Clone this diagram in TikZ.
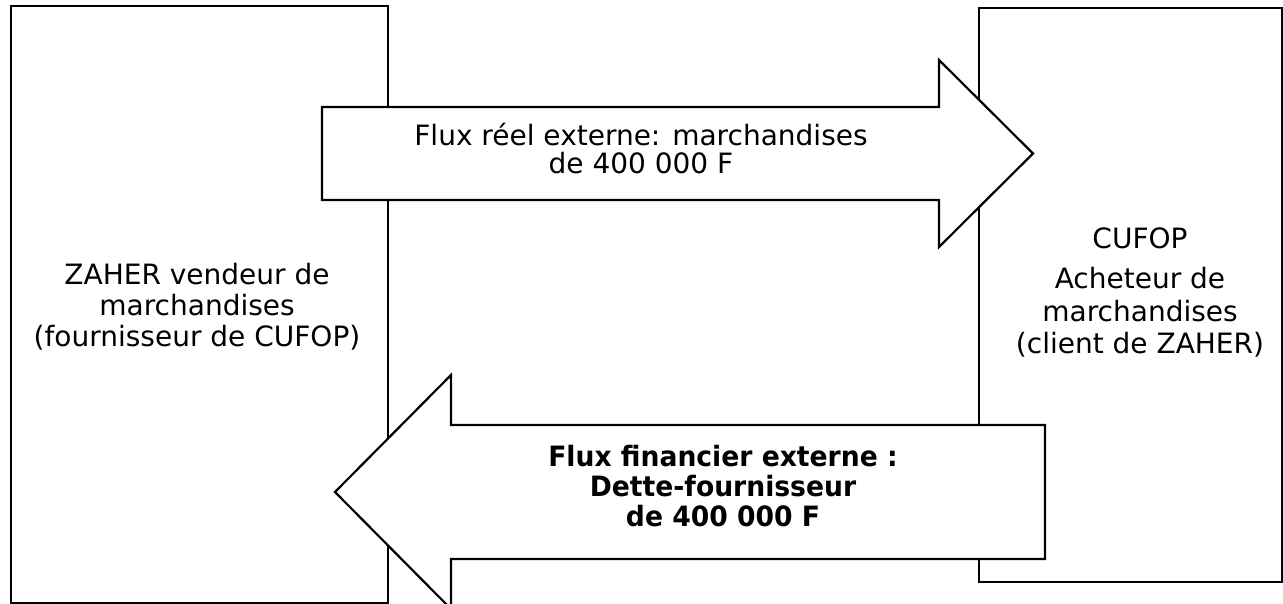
\documentclass[tikz,border=0pt]{standalone}
\usepackage{fontspec}
\setmainfont{DejaVu Sans}
\newfontfamily\narrowsans{DejaVu Sans}[FakeStretch=0.95]
\begin{document}
\begin{tikzpicture}[x=1pt,y=-1pt,
  boxst/.style={draw=black, line width=2.2pt, fill=white, rectangle, inner sep=0pt},
  flowarrow/.style={draw=black, line width=2.2pt, fill=white, line join=miter},
  lbl/.style={align=center, inner sep=0pt, text=black}]
\useasboundingbox (0,0) rectangle (1283,604);
\clip (0,0) rectangle (1283,604);
% boxes
\node[boxst, minimum width=377pt, minimum height=597pt] (zaher) at (199.5,304.5) {};
\node[boxst, minimum width=303pt, minimum height=574pt] (cufop) at (1130.5,295) {};
% top arrow (real flow) from ZAHER to CUFOP
\coordinate (rtail) at (322,153.5);
\coordinate (rtip) at (1033,153.5);
\draw[flowarrow] (322,107) -- (939,107) -- (939,60) -- (rtip) -- (939,247) -- (939,200) -- (322,200) -- cycle;
% bottom arrow (financial flow) from CUFOP to ZAHER
\coordinate (ftip) at (335,492);
\coordinate (ftail) at (1045,492);
\draw[flowarrow] (ftip) -- (451,375) -- (451,425) -- (1045,425) -- (1045,559) -- (451,559) -- (451,609) -- cycle;
% texts
\node[lbl, font=\fontsize{28}{31}\selectfont] (zahertxt) at (197,306.8)
  {ZAHER vendeur de\\marchandises\\(fournisseur de CUFOP)};
\node[lbl, font=\fontsize{28}{32.5}\selectfont] (cufoptxt) at (1140,292.6)
  {CUFOP\\[7.5pt]Acheteur de\\marchandises\\(client de ZAHER)};
\node[lbl, font=\fontsize{28}{28}\selectfont] (reeltxt) at (641,148.4)
  {Flux réel externe: marchandises\\de 400 000 F};
\node[lbl, font=\narrowsans\bfseries\fontsize{28}{30}\selectfont] (fintxt) at (723,486.4)
  {Flux financier externe :\\Dette-fournisseur\\de 400 000 F};
\end{tikzpicture}
\end{document}
